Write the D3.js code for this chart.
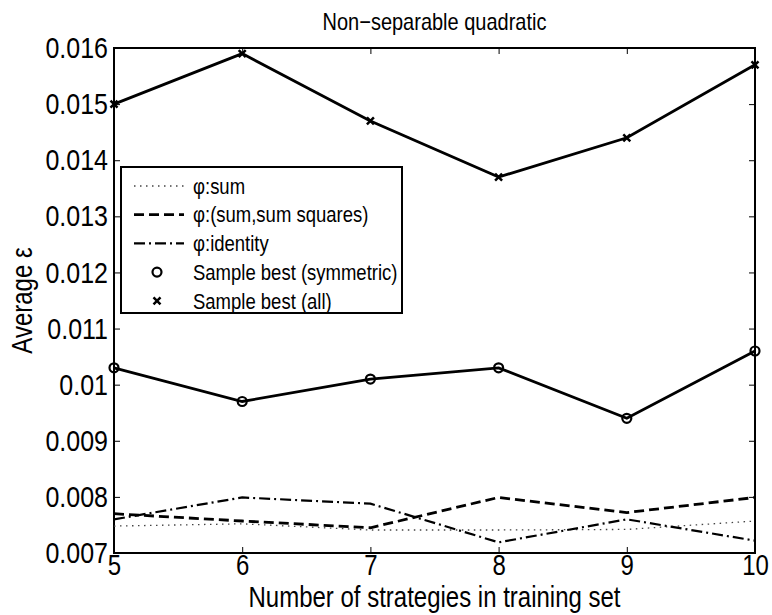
<!DOCTYPE html>
<html>
<head>
<meta charset="utf-8">
<script src="https://cdn.jsdelivr.net/npm/d3@7"></script>
<style>
  body { margin: 0; background: #fff; }
  text { font-family: "Liberation Sans", Arial, sans-serif; fill: #000; }
</style>
</head>
<body>
<svg id="chart"></svg>
<script>
// data
const strategies = [5, 6, 7, 8, 9, 10];
const phiSum = [0.00748, 0.00752, 0.00741, 0.00741, 0.00742, 0.00757];
const phiSumSquares = [0.00770, 0.00757, 0.00745, 0.00799, 0.00772, 0.00799];
const phiIdentity = [0.00760, 0.00799, 0.00788, 0.00719, 0.00760, 0.00722];
const bestSymmetric = [0.0103, 0.0097, 0.0101, 0.0103, 0.0094, 0.0106];
const bestAll = [0.0150, 0.0159, 0.0147, 0.0137, 0.0144, 0.0157];
const yTicks = [0.007, 0.008, 0.009, 0.01, 0.011, 0.012, 0.013, 0.014, 0.015, 0.016];
const yTickLabels = ['0.007', '0.008', '0.009', '0.01', '0.011', '0.012', '0.013', '0.014', '0.015', '0.016'];

const width = 772, height = 615;
const margin = { top: 48, right: 17, bottom: 62, left: 114 };
const stretch = 1.2; // glyphs in the picture are taller than they are wide

const svg = d3.select('#chart').attr('width', width).attr('height', height);

const x = d3.scaleLinear().domain([5, 10]).range([margin.left, width - margin.right]);
const y = d3.scaleLinear().domain([0.007, 0.016]).range([height - margin.bottom, margin.top]);

//AXES (matlab style box with inward ticks)
const tickLen = 6;

svg.append('g')
  .attr('transform', `translate(0,${height - margin.bottom})`)
  .call(d3.axisBottom(x).tickValues(strategies).tickFormat(d3.format('d')).tickSizeInner(-tickLen).tickSizeOuter(0).tickPadding(0))
  .call(g => g.select('.domain').remove())
  .call(g => g.selectAll('text')
    .attr('font-size', '24px').attr('font-family', 'Liberation Sans, Arial, sans-serif')
    .attr('y', 0).attr('dy', '0.71em')
    .attr('transform', `translate(0,2) scale(1,${stretch})`));

svg.append('g')
  .attr('transform', `translate(0,${margin.top})`)
  .call(d3.axisTop(x).tickValues(strategies).tickFormat('').tickSizeInner(-tickLen).tickSizeOuter(0))
  .call(g => g.select('.domain').remove());

svg.append('g')
  .attr('transform', `translate(${margin.left},0)`)
  .call(d3.axisLeft(y).tickValues(yTicks).tickFormat((d, i) => yTickLabels[i]).tickSizeInner(-tickLen).tickSizeOuter(0).tickPadding(0))
  .call(g => g.select('.domain').remove())
  .call(g => g.selectAll('text')
    .attr('font-size', '25px').attr('font-family', 'Liberation Sans, Arial, sans-serif')
    .attr('x', -6)
    .attr('transform', `scale(1,${stretch})`));

svg.append('g')
  .attr('transform', `translate(${width - margin.right},0)`)
  .call(d3.axisRight(y).tickValues(yTicks).tickFormat('').tickSizeInner(-tickLen).tickSizeOuter(0))
  .call(g => g.select('.domain').remove());

svg.append('rect')
  .attr('x', margin.left).attr('y', margin.top)
  .attr('width', width - margin.left - margin.right)
  .attr('height', height - margin.top - margin.bottom)
  .attr('fill', 'none').attr('stroke', '#000').attr('stroke-width', 2);

//SERIES
const series = [
  { name: 'φ:sum', values: phiSum, dash: '1.5,4.5', width: 1.3, color: '#444' },
  { name: 'φ:(sum,sum squares)', values: phiSumSquares, dash: '10,5', width: 2.8, color: '#000' },
  { name: 'φ:identity', values: phiIdentity, dash: '11,4,2,4', width: 2.2, color: '#000' },
  { name: 'Sample best (symmetric)', values: bestSymmetric, dash: null, width: 2.8, color: '#000', marker: 'circle' },
  { name: 'Sample best (all)', values: bestAll, dash: null, width: 2.8, color: '#000', marker: 'cross' }
];

const line = d3.line().x((d, i) => x(strategies[i])).y(d => y(d));

function drawMarker(g, type, cx, cy) {
  if (type === 'circle') {
    g.append('circle').attr('cx', cx).attr('cy', cy).attr('r', 4.5)
      .attr('fill', 'none').attr('stroke', '#000').attr('stroke-width', 2.2);
  } else if (type === 'cross') {
    const s = 3.5;
    g.append('path')
      .attr('d', `M${cx - s},${cy - s}L${cx + s},${cy + s}M${cx - s},${cy + s}L${cx + s},${cy - s}`)
      .attr('stroke', '#000').attr('stroke-width', 2.5);
  }
}

series.forEach(s => {
  svg.append('path')
    .attr('d', line(s.values))
    .attr('fill', 'none')
    .attr('stroke', s.color)
    .attr('stroke-width', s.width)
    .attr('stroke-dasharray', s.dash);
  if (s.marker) {
    const g = svg.append('g');
    s.values.forEach((v, i) => drawMarker(g, s.marker, x(strategies[i]), y(v)));
  }
});

//LEGEND
const legend = svg.append('g');
legend.append('rect')
  .attr('x', 121).attr('y', 167).attr('width', 281).attr('height', 146)
  .attr('fill', '#fff').attr('stroke', '#000').attr('stroke-width', 2);

series.forEach((s, i) => {
  const ly = 186 + i * 28.7;
  if (s.marker) {
    drawMarker(legend, s.marker, 157, ly);
  } else {
    legend.append('line')
      .attr('x1', 134).attr('x2', 184).attr('y1', ly).attr('y2', ly)
      .attr('stroke', s.color).attr('stroke-width', s.width)
      .attr('stroke-dasharray', s.dash);
  }
  legend.append('text')
    .attr('transform', `translate(193,${ly}) scale(1,${stretch})`)
    .attr('dy', '0.35em')
    .attr('font-size', '18.5px')
    .text(s.name);
});

//TITLES
svg.append('text')
  .attr('transform', `translate(${(margin.left + width - margin.right) / 2},30) scale(1,${stretch})`)
  .attr('text-anchor', 'middle').attr('font-size', '20px')
  .text('Non−separable quadratic');

svg.append('text')
  .attr('transform', `translate(${(margin.left + width - margin.right) / 2},607) scale(1,${stretch})`)
  .attr('text-anchor', 'middle').attr('font-size', '24px')
  .text('Number of strategies in training set');

svg.append('text')
  .attr('transform', `translate(32,${(margin.top + height - margin.bottom) / 2}) scale(${stretch},1) rotate(-90)`)
  .attr('text-anchor', 'middle').attr('font-size', '24px')
  .text('Average ε');
</script>
</body>
</html>
